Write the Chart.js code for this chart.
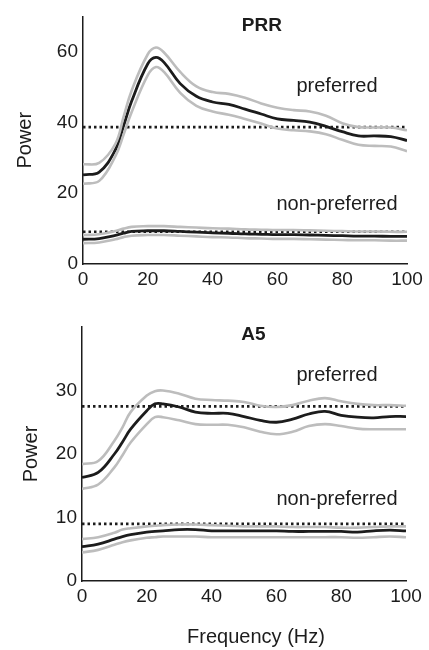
<!DOCTYPE html>
<html>
<head>
<meta charset="utf-8">
<script src="https://cdn.jsdelivr.net/npm/chart.js@4.4.0/dist/chart.umd.min.js"></script>
<style>
  body { margin: 0; background: #fff; }
  #wrap { position: relative; width: 429px; height: 650px; }
  canvas { position: absolute; left: 0; }
  #prrChart { top: 0; }
  #a5Chart { top: 300px; }
</style>
</head>
<body>
<div id="wrap">
  <canvas id="prrChart" width="429" height="300"></canvas>
  <canvas id="a5Chart" width="429" height="350"></canvas>
</div>
<script>
// Frequency samples (Hz) shared by every curve
const FREQ = [0, 5, 10, 12.5, 15, 20, 22.5, 25, 30, 35, 40, 45, 50, 55, 60, 65, 70, 75, 80, 85, 90, 95, 100];
const X_TICKS = [0, 20, 40, 60, 80, 100];

// PRR panel
const PRR_PREF_MEAN  = [25.2, 26.0, 32.3, 39.0, 46.0, 56.6, 58.4, 57.0, 51.0, 47.4, 45.8, 45.1, 43.8, 42.4, 41.0, 40.6, 40.1, 38.9, 37.4, 36.2, 36.2, 36.0, 34.9];
const PRR_PREF_UPPER = [28.2, 28.6, 34.0, 41.5, 49.0, 59.3, 61.2, 59.8, 54.3, 50.2, 48.6, 48.1, 47.0, 45.4, 44.2, 43.5, 43.1, 41.9, 39.8, 38.7, 38.6, 38.6, 37.8];
const PRR_PREF_LOWER = [22.7, 23.5, 30.5, 36.5, 42.9, 53.4, 55.7, 54.3, 48.4, 44.7, 43.1, 42.2, 41.0, 39.7, 38.3, 37.8, 37.5, 36.7, 35.1, 33.7, 33.4, 33.2, 31.9];
const PRR_NONPREF_MEAN  = [7.0, 7.2, 8.1, 8.7, 9.2, 9.4, 9.4, 9.4, 9.2, 9.0, 8.8, 8.7, 8.5, 8.4, 8.3, 8.3, 8.2, 8.1, 8.0, 7.9, 7.9, 7.8, 7.8];
const PRR_NONPREF_UPPER = [8.2, 8.4, 9.3, 10.0, 10.5, 10.7, 10.7, 10.7, 10.5, 10.3, 10.1, 10.0, 9.8, 9.7, 9.6, 9.6, 9.5, 9.4, 9.3, 9.2, 9.2, 9.1, 9.1];
const PRR_NONPREF_LOWER = [5.9, 6.1, 7.0, 7.6, 8.0, 8.2, 8.2, 8.2, 8.0, 7.8, 7.6, 7.5, 7.3, 7.2, 7.1, 7.1, 7.0, 6.9, 6.8, 6.7, 6.7, 6.6, 6.6];
const PRR_BASELINES = [38.7, 9.1];
const PRR_Y_TICKS = [0, 20, 40, 60];

// A5 panel
const A5_PREF_MEAN  = [16.3, 17.1, 20.0, 21.9, 23.9, 26.8, 27.9, 27.9, 27.4, 26.6, 26.4, 26.4, 25.9, 25.3, 25.0, 25.5, 26.3, 26.7, 26.1, 25.8, 25.7, 25.9, 25.9];
const A5_PREF_UPPER = [18.4, 18.9, 22.1, 24.2, 26.6, 29.2, 29.9, 30.0, 29.5, 28.7, 28.5, 28.4, 28.2, 27.6, 27.4, 27.7, 28.4, 28.8, 28.3, 27.9, 27.7, 27.7, 27.6];
const A5_PREF_LOWER = [14.5, 15.2, 17.9, 19.8, 21.8, 24.7, 25.8, 25.8, 25.3, 24.7, 24.6, 24.6, 24.2, 23.5, 23.1, 23.5, 24.4, 24.7, 24.4, 24.0, 23.9, 23.9, 23.9];
const A5_NONPREF_MEAN  = [5.4, 5.8, 6.6, 7.0, 7.3, 7.7, 7.8, 7.9, 8.1, 8.1, 7.9, 7.9, 7.9, 7.9, 7.9, 7.8, 7.8, 7.8, 7.8, 7.7, 7.9, 8.0, 7.9];
const A5_NONPREF_UPPER = [6.6, 6.9, 7.6, 8.1, 8.3, 8.6, 8.7, 8.8, 8.9, 8.9, 8.8, 8.7, 8.6, 8.6, 8.6, 8.5, 8.5, 8.5, 8.4, 8.4, 8.5, 8.6, 8.6];
const A5_NONPREF_LOWER = [4.5, 4.9, 5.7, 6.1, 6.4, 6.8, 6.9, 7.0, 7.0, 7.0, 6.9, 6.9, 6.9, 6.9, 6.9, 6.9, 6.9, 6.9, 6.9, 6.8, 6.9, 7.0, 6.9];
const A5_BASELINES = [27.5, 9.0];
const A5_Y_TICKS = [0, 10, 20, 30];

const FONT = '"Liberation Sans", Arial, sans-serif';
const INK = '#1c1c1c';
const BAND = '#bdbdbd';

// Draws free text at data coordinates (panel titles, curve names, x title)
const textLabels = {
    id: 'textLabels',
    afterDatasetsDraw(chart, args, opts) {
        const { ctx, scales: { x, y } } = chart;
        ctx.save();
        ctx.fillStyle = INK;
        ctx.textAlign = 'center';
        ctx.textBaseline = 'middle';
        (opts.items || []).forEach(item => {
            ctx.font = item.font;
            ctx.fillText(item.text, x.getPixelForValue(item.x), y.getPixelForValue(item.y));
        });
        ctx.restore();
    }
};

function curve(values, color, width) {
    return {
        data: FREQ.map((f, i) => ({ x: f, y: values[i] })),
        borderColor: color,
        borderWidth: width,
        pointRadius: 0,
        tension: 0.4,
        fill: false
    };
}

function baseline(value) {
    return {
        data: [{ x: FREQ[0], y: value }, { x: FREQ[FREQ.length - 1], y: value }],
        borderColor: INK,
        borderWidth: 2.6,
        borderDash: [2.5, 3],
        pointRadius: 0,
        fill: false
    };
}

function panelConfig(p) {
    return {
        type: 'line',
        data: {
            datasets: [
                curve(p.prefUpper, BAND, 2.6),
                curve(p.prefLower, BAND, 2.6),
                curve(p.nonUpper, BAND, 2.6),
                curve(p.nonLower, BAND, 2.6),
                baseline(p.baselines[0]),
                baseline(p.baselines[1]),
                curve(p.prefMean, INK, 2.8),
                curve(p.nonMean, INK, 2.8)
            ]
        },
        options: {
            responsive: false,
            animation: false,
            layout: { padding: { top: p.padTop, right: p.padRight, left: 0, bottom: 0 } },
            plugins: {
                legend: { display: false },
                tooltip: { enabled: false },
                textLabels: { items: p.labels }
            },
            scales: {
                x: {
                    type: 'linear',
                    min: 0,
                    max: 100,
                    afterBuildTicks: s => { s.ticks = X_TICKS.map(v => ({ value: v })); },
                    afterFit: s => { s.height = p.xHeight; },
                    grid: { display: false, drawTicks: false },
                    border: { display: true, color: INK, width: 1.5 },
                    ticks: { color: INK, padding: 4, font: { family: FONT, size: 19 } }
                },
                y: {
                    min: 0,
                    max: p.yMax,
                    afterBuildTicks: s => { s.ticks = p.yTicks.map(v => ({ value: v })); },
                    afterFit: s => { s.width = p.yWidth; },
                    grid: { display: false, drawTicks: false },
                    border: { display: true, color: INK, width: 1.5 },
                    ticks: { color: INK, padding: 5, font: { family: FONT, size: 19 } },
                    title: {
                        display: true,
                        text: 'Power',
                        color: INK,
                        font: { family: FONT, size: 20 },
                        padding: { top: p.yTitlePad, bottom: 0 }
                    }
                }
            }
        },
        plugins: [textLabels]
    };
}

const prrChart = new Chart(document.getElementById('prrChart'), panelConfig({
    prefMean: PRR_PREF_MEAN, prefUpper: PRR_PREF_UPPER, prefLower: PRR_PREF_LOWER,
    nonMean: PRR_NONPREF_MEAN, nonUpper: PRR_NONPREF_UPPER, nonLower: PRR_NONPREF_LOWER,
    baselines: PRR_BASELINES,
    yMax: 70,
    yTicks: PRR_Y_TICKS,
    padTop: 10, padRight: 22, xHeight: 36, yWidth: 83, yTitlePad: 13,
    labels: [
        { text: 'PRR', x: 55.2, y: 67.4, font: 'bold 19px ' + FONT },
        { text: 'preferred', x: 78.4, y: 50.2, font: '20px ' + FONT },
        { text: 'non-preferred', x: 78.4, y: 16.8, font: '20px ' + FONT }
    ]
}));

const a5Chart = new Chart(document.getElementById('a5Chart'), panelConfig({
    prefMean: A5_PREF_MEAN, prefUpper: A5_PREF_UPPER, prefLower: A5_PREF_LOWER,
    nonMean: A5_NONPREF_MEAN, nonUpper: A5_NONPREF_UPPER, nonLower: A5_NONPREF_LOWER,
    baselines: A5_BASELINES,
    yMax: 40,
    yTicks: A5_Y_TICKS,
    padTop: 27, padRight: 23, xHeight: 69, yWidth: 82, yTitlePad: 19,
    labels: [
        { text: 'A5', x: 52.9, y: 38.7, font: 'bold 19px ' + FONT },
        { text: 'preferred', x: 78.7, y: 32.3, font: '20px ' + FONT },
        { text: 'non-preferred', x: 78.7, y: 12.9, font: '20px ' + FONT },
        { text: 'Frequency (Hz)', x: 53.7, y: -8.9, font: '20px ' + FONT }
    ]
}));
</script>
</body>
</html>
